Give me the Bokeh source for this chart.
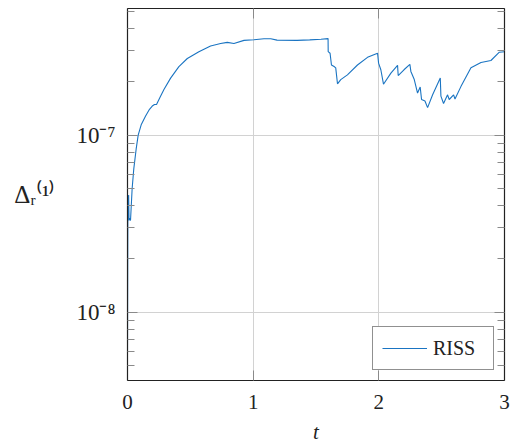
from bokeh.plotting import figure
from bokeh.models import (LogAxis, LinearAxis, FixedTicker, CustomLabelingPolicy,
                          CustomJSTickFormatter, Range1d)
from bokeh.embed import file_html
from bokeh.resources import INLINE

# ---- data ----
t = [0, 0.003, 0.006, 0.009, 0.012, 0.016, 0.024, 0.037, 0.05, 0.069, 0.085, 0.11,
     0.143, 0.175, 0.197, 0.215, 0.231, 0.26, 0.29, 0.343, 0.409, 0.476, 0.568, 0.661,
     0.741, 0.794, 0.847, 0.927, 1.006, 1.086, 1.14, 1.19, 1.35, 1.45, 1.54, 1.596,
     1.597, 1.612, 1.623, 1.644, 1.657, 1.671, 1.697, 1.75, 1.83, 1.91, 1.99, 1.998,
     2.016, 2.037, 2.096, 2.149, 2.154, 2.2, 2.247, 2.255, 2.282, 2.308, 2.329, 2.34,
     2.367, 2.388, 2.428, 2.489, 2.494, 2.515, 2.547, 2.56, 2.595, 2.606, 2.653, 2.733,
     2.813, 2.892, 2.959, 3.0]
riss = [6.1e-9, 4.5e-8, 3.4e-8, 4.6e-8, 3.3e-8, 3.4e-8, 3.3e-8, 5.0e-8, 6.45e-8, 8.36e-8,
        1.0e-7, 1.15e-7, 1.28e-7, 1.40e-7, 1.46e-7, 1.49e-7, 1.49e-7, 1.64e-7, 1.81e-7,
        2.10e-7, 2.44e-7, 2.71e-7, 2.96e-7, 3.19e-7, 3.29e-7, 3.34e-7, 3.29e-7, 3.43e-7,
        3.46e-7, 3.50e-7, 3.50e-7, 3.44e-7, 3.43e-7, 3.45e-7, 3.48e-7, 3.51e-7, 2.96e-7,
        2.90e-7, 2.49e-7, 2.44e-7, 2.40e-7, 1.95e-7, 2.06e-7, 2.19e-7, 2.49e-7, 2.75e-7,
        2.90e-7, 2.55e-7, 2.34e-7, 1.94e-7, 2.24e-7, 2.48e-7, 2.17e-7, 2.34e-7, 2.51e-7,
        2.29e-7, 2.06e-7, 1.73e-7, 1.87e-7, 1.59e-7, 1.56e-7, 1.43e-7, 1.69e-7, 2.10e-7,
        1.66e-7, 1.51e-7, 1.69e-7, 1.59e-7, 1.69e-7, 1.60e-7, 1.88e-7, 2.40e-7, 2.57e-7,
        2.64e-7, 2.94e-7, 2.96e-7]
series_name = "RISS"

x_ticks = [0, 1, 2, 3]
y_major = [1e-8, 1e-7]
y_minor = [4e-9, 5e-9, 6e-9, 7e-9, 8e-9, 9e-9,
           2e-8, 3e-8, 4e-8, 5e-8, 6e-8, 7e-8, 8e-8, 9e-8,
           2e-7, 3e-7, 4e-7, 5e-7]
x_label = "t"
y_label = "\u0394\u1d63\u207d\u00b9\u207e"   # Δ_r^(1)

FONT = "Liberation Serif"
TXT = "#222222"
LINE = "#1a74c2"
TICK = "#8a8a8a"

p = figure(width=510, height=446, y_axis_type="log",
           x_range=Range1d(0, 3), y_range=Range1d(4.12e-9, 5.19e-7),
           output_backend="svg", toolbar_location=None,
           min_border_left=127, min_border_right=6, min_border_top=8,
           min_border_bottom=62)
p.outline_line_color = "#222222"
p.background_fill_color = "white"
p.border_fill_color = "white"

p.line(t, riss, line_color=LINE, line_width=1.1, legend_label=series_name)

no_labels = CustomLabelingPolicy(code="""
const ks = [...indices];
for (const k of ks) indices.unset(k);
return indices;
""")

pow_fmt = CustomJSTickFormatter(code="""
const e = Math.round(Math.log10(tick));
const sup = {"-":"\u207b","0":"\u2070","1":"\u00b9","2":"\u00b2","3":"\u00b3","4":"\u2074",
             "5":"\u2075","6":"\u2076","7":"\u2077","8":"\u2078","9":"\u2079"};
return "10" + String(e).split("").map(c => sup[c]).join("");
""")

yt = FixedTicker(ticks=y_major, minor_ticks=y_minor)
xt = FixedTicker(ticks=x_ticks, minor_ticks=[])


def style(ax):
    ax.axis_line_color = "#222222"
    ax.axis_line_width = 1.2
    ax.major_tick_in = 10
    ax.major_tick_out = 0
    ax.minor_tick_in = 7
    ax.minor_tick_out = 0
    ax.major_tick_line_color = TICK
    ax.minor_tick_line_color = TICK
    ax.major_label_text_font = FONT
    ax.major_label_text_font_size = "21px"
    ax.major_label_text_color = TXT


def hide_labels(ax):
    ax.major_label_policy = no_labels
    ax.major_label_text_font_size = "2px"
    ax.major_label_standoff = 0


ya = p.yaxis[0]
ya.ticker = yt
ya.formatter = pow_fmt
style(ya)
ya.major_label_text_font_size = "23px"
ya.major_label_standoff = 12

used_orientation = False
try:
    if "axis_label_orientation" in ya.properties():
        ya.axis_label_orientation = "horizontal"
        ya.axis_label = y_label
        ya.axis_label_text_font = FONT
        ya.axis_label_text_font_style = "normal"
        ya.axis_label_text_font_size = "25px"
        ya.axis_label_text_color = TXT
        ya.axis_label_standoff = 18
        used_orientation = True
except Exception:
    used_orientation = False

if not used_orientation:
    # fallback: horizontal title drawn as the single label of an extra bare axis
    title_fmt = CustomJSTickFormatter(args=dict(lbl=y_label), code="return lbl;")
    ea = LogAxis(ticker=FixedTicker(ticks=[4.3e-8], minor_ticks=[]), formatter=title_fmt)
    ea.axis_line_color = None
    ea.major_tick_line_color = None
    ea.minor_tick_line_color = None
    ea.major_label_text_font = FONT
    ea.major_label_text_font_size = "25px"
    ea.major_label_text_color = TXT
    ea.major_label_standoff = 18
    p.add_layout(ea, "left")

xa = p.xaxis[0]
xa.ticker = xt
style(xa)
xa.major_label_standoff = 14
xa.axis_label = x_label
xa.axis_label_text_font = FONT
xa.axis_label_text_font_style = "italic"
xa.axis_label_text_font_size = "21px"
xa.axis_label_text_color = TXT
xa.axis_label_standoff = 8

ra = LogAxis(ticker=yt)
style(ra)
hide_labels(ra)
p.add_layout(ra, "right")

ta = LinearAxis(ticker=xt)
style(ta)
hide_labels(ta)
p.add_layout(ta, "above")

p.ygrid.ticker = yt
p.xgrid.ticker = xt
for g in (p.xgrid[0], p.ygrid[0]):
    g.grid_line_color = "#d2d2d2"
    g.grid_line_width = 1

lg = p.legend[0]
lg.location = "bottom_right"
lg.margin = 10
lg.padding = 9
lg.spacing = 0
lg.glyph_width = 45
lg.glyph_height = 24
lg.label_standoff = 6
lg.label_height = 24
lg.label_width = 51
lg.label_text_font = FONT
lg.label_text_font_size = "20px"
lg.label_text_color = TXT
lg.border_line_color = "#222222"
lg.border_line_width = 1
lg.background_fill_alpha = 1

open("out.html", "w").write(file_html(p, INLINE))
